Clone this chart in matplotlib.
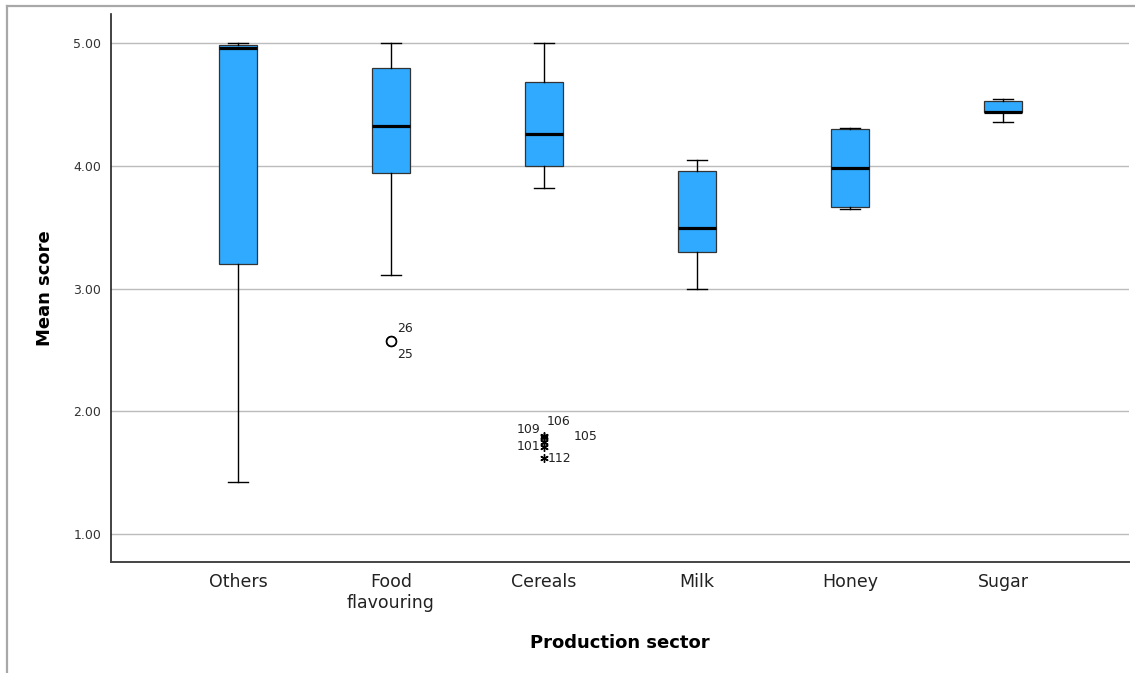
import matplotlib
matplotlib.use("Agg")
import matplotlib.pyplot as plt
from matplotlib.lines import Line2D

# Production sectors and five-number summaries of the mean score
sectors = ["Others", "Food\nflavouring", "Cereals", "Milk", "Honey", "Sugar"]
whisker_low = [1.42, 3.11, 3.82, 3.00, 3.65, 4.36]
q1 = [3.20, 3.94, 4.00, 3.30, 3.66, 4.44]
median = [4.96, 4.32, 4.26, 3.49, 3.98, 4.44]
q3 = [4.98, 4.80, 4.68, 3.96, 4.30, 4.525]
whisker_high = [5.00, 5.00, 5.00, 4.05, 4.31, 4.545]

# Outliers (circle) and extreme values (star), with case numbers
outlier_sector = [1, 1]
outlier_value = [2.57, 2.57]
outlier_case = ["26", "25"]
extreme_sector = [2, 2, 2, 2, 2]
extreme_value = [1.80, 1.79, 1.75, 1.71, 1.62]
extreme_case = ["106", "109", "105", "101", "112"]

yticks = [1.0, 2.0, 3.0, 4.0, 5.0]

plt.rcParams["font.family"] = ["DejaVu Sans"]

fig = plt.figure(figsize=(11.35, 6.73), dpi=100)
ax = fig.add_axes([0.0978, 0.1649, 0.897, 0.8143])

box_color = "#30AAFF"
stats = []
for i in range(len(sectors)):
    stats.append(dict(whislo=whisker_low[i], q1=q1[i], med=median[i],
                      q3=q3[i], whishi=whisker_high[i], fliers=[]))

positions = list(range(len(sectors)))
ax.bxp(stats, positions=positions, widths=0.25, capwidths=0.13,
       patch_artist=True, showfliers=False,
       boxprops=dict(facecolor=box_color, edgecolor="#333333", linewidth=0.9),
       medianprops=dict(color="black", linewidth=2.3),
       whiskerprops=dict(color="black", linewidth=1.0),
       capprops=dict(color="black", linewidth=1.0),
       zorder=3)

# Outliers
ax.plot(outlier_sector, outlier_value, linestyle="none", marker="o",
        markersize=7, markerfacecolor="white", markeredgecolor="black",
        markeredgewidth=1.2, zorder=4)
outlier_offsets = [((6, 13), "left"), ((6, -13), "left")]
for s, v, c, (off, ha) in zip(outlier_sector, outlier_value, outlier_case, outlier_offsets):
    ax.annotate(c, (s, v), xytext=off, textcoords="offset pixels",
                ha=ha, va="center", fontsize=9, color="#222222")

# Extreme values
ax.plot(extreme_sector, extreme_value, linestyle="none", marker=(6, 2, 0),
        markersize=6, color="black", markeredgewidth=1.0, zorder=4)
extreme_offsets = [((3, 14), "left"), ((-4, 8), "right"), ((30, 5), "left"),
                   ((-4, 0), "right"), ((4, -1), "left")]
for s, v, c, (off, ha) in zip(extreme_sector, extreme_value, extreme_case, extreme_offsets):
    ax.annotate(c, (s, v), xytext=off, textcoords="offset pixels",
                ha=ha, va="center", fontsize=9, color="#222222")

ax.set_xlim(-0.83, 5.825)
ax.set_ylim(0.772, 5.236)
ax.set_yticks(yticks)
ax.set_yticklabels([f"{t:.2f}" for t in yticks], fontsize=9, color="#333333")
ax.set_xticks(positions)
ax.set_xticklabels(sectors, fontsize=12.5, color="#222222", linespacing=1.2)
ax.tick_params(axis="both", length=0)
ax.tick_params(axis="y", pad=7)
ax.tick_params(axis="x", pad=8)

ax.grid(axis="y", color="#bcbcbc", linewidth=1.0, zorder=0)
ax.set_axisbelow(True)
for side in ["top", "right"]:
    ax.spines[side].set_visible(False)
ax.spines["left"].set_color("#222222")
ax.spines["bottom"].set_color("#444444")
ax.spines["left"].set_linewidth(1.2)
ax.spines["bottom"].set_linewidth(1.4)

ax.set_xlabel("Production sector", fontsize=13, fontweight="bold", labelpad=16)
ax.set_ylabel("Mean score", fontsize=13, fontweight="bold", labelpad=14)

# Frame lines along the top and left of the figure
fig.add_artist(Line2D([7 / 1135, 1.0], [1 - 5.5 / 673, 1 - 5.5 / 673],
                      transform=fig.transFigure, color="#a8a8a8", linewidth=1.6))
fig.add_artist(Line2D([7 / 1135, 7 / 1135], [0.0, 1 - 5.5 / 673],
                      transform=fig.transFigure, color="#a8a8a8", linewidth=1.6))

fig.savefig("out.png", dpi=100)
